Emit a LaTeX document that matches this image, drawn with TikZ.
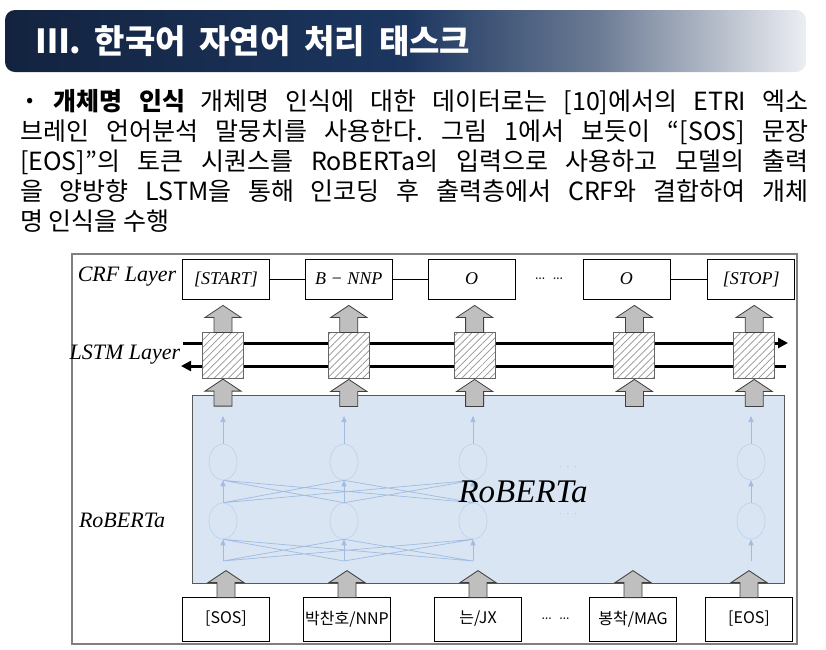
\documentclass[tikz,border=0pt]{standalone}
\usepackage{fontspec}
\newfontfamily\krfont{Noto Sans CJK KR}
\newfontfamily\eqfont{Liberation Serif}
\usepackage{tikz}
\usetikzlibrary{positioning,arrows.meta,calc,shapes.geometric,patterns.meta}
\definecolor{navydark}{RGB}{19,35,63}
\definecolor{navymid}{RGB}{28,54,96}
\definecolor{navyfade}{RGB}{108,123,148}
\definecolor{bannerlight}{RGB}{236,238,242}
\definecolor{robfill}{RGB}{217,229,243}
\definecolor{nnblue}{RGB}{160,188,226}
\definecolor{nnpale}{RGB}{190,208,234}
\definecolor{blkgray}{RGB}{191,191,191}
\pgfdeclarehorizontalshading{banner}{100bp}{color(0bp)=(navydark); color(25bp)=(navydark); color(50bp)=(navymid); color(62bp)=(navyfade); color(75bp)=(bannerlight); color(100bp)=(bannerlight)}
\tikzset{
  uparr/.pic={\draw[fill=blkgray, draw=black!75, line width=0.8pt] (0,0) -- (18,12) -- (9,12) -- (9,27) -- (-9,27) -- (-9,12) -- (-18,12) -- cycle;}
}
\frenchspacing

\begin{document}
\begin{tikzpicture}[x=1pt, y=-1pt,
        crfbox/.style={draw, fill=white, line width=0.8pt, minimum width=87pt, minimum height=40pt,
                       inner sep=0pt, font=\eqfont\itshape\fontsize{18}{18}\selectfont},
        inbox/.style={draw, fill=white, line width=0.8pt, minimum width=87pt, minimum height=44pt,
                      inner sep=0pt, font=\krfont\fontsize{16}{16}\selectfont},
        lstmbox/.style={draw=gray!80!black, line width=1pt, minimum width=41pt, minimum height=46pt,
                        inner sep=0pt, preaction={fill=white},
                        pattern={Lines[angle=45,distance=5pt,line width=0.7pt]}, pattern color=gray!85},
        lbl/.style={font=\eqfont\itshape\fontsize{22}{22}\selectfont},
        neu/.style={ellipse, draw=nnpale, line width=0.6pt, minimum width=28pt, minimum height=36pt, inner sep=0pt},
        nnline/.style={draw=nnblue, line width=0.7pt},
        nnarr/.style={nnline, -{Triangle[length=6pt,width=5pt]}},
        bilstm/.style={line width=3pt, -{Triangle[length=10pt,width=10pt]}},
        body/.style={anchor=base west, inner sep=0pt, font=\krfont\fontsize{25}{30}\selectfont}
    ]
    \useasboundingbox (0,0) rectangle (826,649);
    % title banner
    \shade[shading=banner, rounded corners=10pt] (5,10) rectangle (806,72);
    \node[anchor=west, inner sep=0pt, text=white, font=\krfont\bfseries\fontsize{33}{33}\selectfont] (title) at (36,41)
        {\makebox[434pt][s]{Ⅲ. 한국어 자연어 처리 태스크}};
    % paragraph
    \node[body] (line1) at (22,110) {\makebox[786pt][s]{\textbf{· 개체명 인식} 개체명 인식에 대한 데이터로는 [10]에서의 ETRI 엑소}};
    \node[body] (line2) at (20,140) {\makebox[788pt][s]{브레인 언어분석 말뭉치를 사용한다. 그림 1에서 보듯이 “[SOS] 문장}};
    \node[body] (line3) at (20,170) {\makebox[788pt][s]{[EOS]”의 토큰 시퀀스를 RoBERTa의 입력으로 사용하고 모델의 출력}};
    \node[body] (line4) at (20,200) {\makebox[788pt][s]{을 양방향 LSTM을 통해 인코딩 후 출력층에서 CRF와 결합하여 개체}};
    \node[body] (line5) at (20,230) {명 인식을 수행};
    % figure frame
    \draw[gray, line width=1.2pt] (72,254) rectangle (797,644);
    \node[lbl] (crflbl) at (127,277) {CRF Layer};
    \node[lbl] (lstmlbl) at (125,355) {LSTM Layer};
    \node[lbl] (roblbl) at (122,520) {RoBERTa};
    % RoBERTa block
    \node[draw=black!65, fill=robfill, line width=1pt, minimum width=592pt, minimum height=188pt] (rob) at (488,489) {};
    \node[neu] (u1) at (223,462) {};
    \node[neu] (d1) at (223,521) {};
    \node[neu] (u2) at (344,462) {};
    \node[neu] (d2) at (344,521) {};
    \node[neu] (u3) at (473,462) {};
    \node[neu] (d3) at (473,521) {};
    \node[neu] (u5) at (751,462) {};
    \node[neu] (d5) at (751,521) {};
    \coordinate (t1) at (223,416);
    \coordinate (t2) at (344,416);
    \coordinate (t3) at (473,416);
    \coordinate (t5) at (751,416);
    \coordinate (b1) at (223,561);
    \coordinate (b2) at (344,561);
    \coordinate (b3) at (473,561);
    \coordinate (b5) at (751,561);
    \draw[nnarr] (u1) -- (t1);
    \draw[nnarr] (u2) -- (t2);
    \draw[nnarr] (u3) -- (t3);
    \draw[nnarr] (u5) -- (t5);
    \draw[nnarr] (d1) -- (u1);
    \draw[nnarr] (d2) -- (u2);
    \draw[nnarr] (d3) -- (u3);
    \draw[nnarr] (d5) -- (u5);
    \draw[nnarr] (b1) -- (d1);
    \draw[nnarr] (b2) -- (d2);
    \draw[nnarr] (b3) -- (d3);
    \draw[nnarr] (b5) -- (d5);
    \draw[nnline] (d1.north) -- (u2.south) (d1.north) -- (u3.south) (d2.north) -- (u1.south)
                  (d2.north) -- (u3.south) (d3.north) -- (u1.south) (d3.north) -- (u2.south);
    \draw[nnline] (b1) -- (d2.south) (b1) -- (d3.south) (b2) -- (d1.south)
                  (b2) -- (d3.south) (b3) -- (d1.south) (b3) -- (d2.south);
    \node[text=nnblue, font=\fontsize{10}{10}\selectfont] (dotsA) at (568,469) {···};
    \node[text=nnblue, font=\fontsize{10}{10}\selectfont] (dotsB) at (568,516) {···};
    \node[font=\eqfont\itshape\fontsize{33}{33}\selectfont] (robname) at (523,492) {RoBERTa};
    % bidirectional LSTM
    \coordinate (fwA) at (183,343);
    \coordinate (fwB) at (788,343);
    \coordinate (bwA) at (786,366);
    \coordinate (bwB) at (181,366);
    \draw[bilstm] (fwA) -- (fwB);
    \draw[bilstm] (bwA) -- (bwB);
    % CRF layer
    \node[crfbox] (crf1) at (226,279) {[START]};
    \node[crfbox, right=35pt of crf1] (crf2) {B − NNP};
    \node[crfbox, right=35pt of crf2] (crf3) {O};
    \node[crfbox, right=67pt of crf3] (crf4) {O};
    \node[crfbox, right=37pt of crf4] (crf5) {[STOP]};
    \node[font=\fontsize{20}{20}\selectfont] (cdots) at ($(crf3.east)!0.5!(crf4.west)$) {\dots\ \dots};
    \draw[line width=0.8pt] (crf1) -- (crf2);
    \draw[line width=0.8pt] (crf2) -- (crf3);
    \draw[line width=0.8pt] (crf4) -- (crf5);
    \node[lstmbox, below=33pt of crf1, xshift=-3pt] (lstm1) {};
    \node[lstmbox, below=33pt of crf2] (lstm2) {};
    \node[lstmbox, below=33pt of crf3, xshift=3pt] (lstm3) {};
    \node[lstmbox, below=33pt of crf4, xshift=8pt] (lstm4) {};
    \node[lstmbox, below=33pt of crf5, xshift=3pt] (lstm5) {};
    \pic at ([yshift=27pt]lstm1.north) {uparr};
    \pic at ([yshift=27pt]lstm2.north) {uparr};
    \pic at ([yshift=27pt]lstm3.north) {uparr};
    \pic at ([yshift=27pt]lstm4.north) {uparr};
    \pic at ([yshift=27pt]lstm5.north) {uparr};
    \pic at (lstm1.south) {uparr};
    \pic at (lstm2.south) {uparr};
    \pic at (lstm3.south) {uparr};
    \pic at (lstm4.south) {uparr};
    \pic at (lstm5.south) {uparr};
    % input tokens
    \node[inbox] (in1) at (226,619) {[SOS]};
    \node[inbox] (in2) at (347,619) {박찬호/NNP};
    \node[inbox] (in3) at (478,619) {는/JX};
    \node[inbox] (in4) at (633,619) {봉착/MAG};
    \node[inbox] (in5) at (749,619) {[EOS]};
    \node[font=\fontsize{20}{20}\selectfont] (idots) at ($(in3.east)!0.5!(in4.west)$) {\dots\ \dots};
    \pic at ([yshift=26pt]in1.north) {uparr};
    \pic at ([yshift=26pt]in2.north) {uparr};
    \pic at ([yshift=26pt]in3.north) {uparr};
    \pic at ([yshift=26pt]in4.north) {uparr};
    \pic at ([yshift=26pt]in5.north) {uparr};
\end{tikzpicture}
\end{document}
